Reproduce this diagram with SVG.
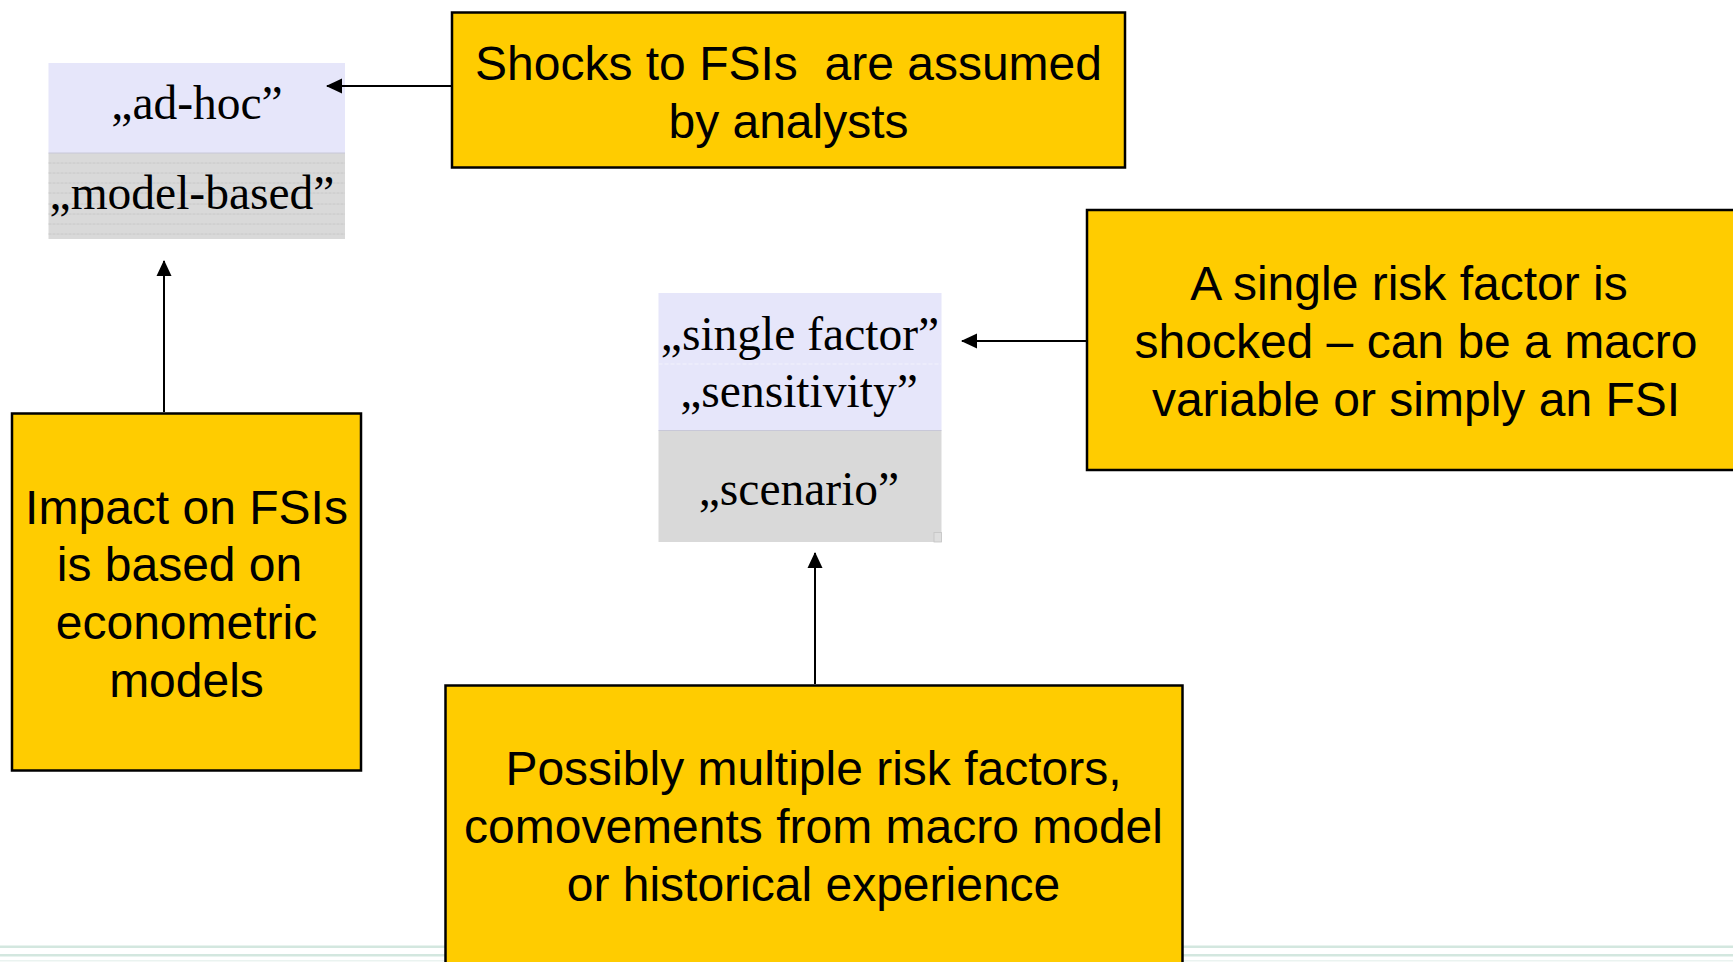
<svg xmlns="http://www.w3.org/2000/svg" width="1733" height="962" viewBox="0 0 1733 962">
  <style>
    .note { fill: #FFCC00; stroke: #000; stroke-width: 2.5; }
    .lav { fill: #E6E6FA; }
    .grey { fill: #D9D9D9; }
    .sans { font-family: "Liberation Sans", Arial, sans-serif; font-size: 48px; fill: #000; text-anchor: middle; }
    .serif { font-family: "Liberation Serif", "Times New Roman", serif; font-size: 47.5px; fill: #000; text-anchor: middle; }
    .link { stroke: #000; stroke-width: 2; fill: none; marker-end: url(#head); }
    .rule { stroke: #C8C8C8; stroke-width: 1; stroke-dasharray: 3 1; }
  </style>
  <defs>
    <marker id="head" markerUnits="userSpaceOnUse" markerWidth="16" markerHeight="16" refX="15" refY="8" orient="auto">
      <path d="M0,0.5 L16,8 L0,15.5 z" fill="#000"/>
    </marker>
  </defs>

  <rect width="1733" height="962" fill="#fff"/>

  <!-- footer stripes -->
  <g id="footer">
    <rect x="0" y="945.5" width="1733" height="2.5" fill="#D3E7DF"/>
    <rect x="0" y="954" width="1733" height="2.5" fill="#D3E7DF"/>
    <rect x="0" y="960" width="1733" height="1.5" fill="#EAF3F0"/>
  </g>

  <!-- classification: ad-hoc / model-based -->
  <g id="approach">
    <rect class="lav" x="48.5" y="63" width="296.5" height="90"/>
    <rect class="grey" x="48.5" y="153" width="296.5" height="86"/>
    <line x1="48.5" y1="153" x2="345" y2="153" stroke="#C8C8D8" stroke-width="1"/>
    <g>
      <line class="rule" x1="48.5" y1="163" x2="345" y2="163"/>
      <line class="rule" x1="48.5" y1="173" x2="345" y2="173"/>
      <line class="rule" x1="48.5" y1="183" x2="345" y2="183"/>
      <line class="rule" x1="48.5" y1="193" x2="345" y2="193"/>
      <line class="rule" x1="48.5" y1="204" x2="345" y2="204"/>
      <line class="rule" x1="48.5" y1="214" x2="345" y2="214"/>
      <line class="rule" x1="48.5" y1="224" x2="345" y2="224"/>
      <line class="rule" x1="48.5" y1="234" x2="345" y2="234"/>
    </g>
    <text class="serif" x="197" y="119">„ad-hoc”</text>
    <text class="serif" x="192" y="209">„model-based”</text>
  </g>

  <!-- classification: single factor / scenario -->
  <g id="scope">
    <rect class="lav" x="658.5" y="293" width="283" height="137.5"/>
    <rect class="grey" x="658.5" y="430.5" width="283" height="111.5"/>
    <line x1="658.5" y1="364" x2="941.5" y2="364" stroke="#F2F2FC" stroke-width="1" stroke-dasharray="4 2"/>
    <line x1="658.5" y1="430.5" x2="941.5" y2="430.5" stroke="#C8C8D8" stroke-width="1"/>
    <rect x="934" y="532.5" width="7.5" height="9.5" fill="#DEDEDE" stroke="#C4C4C4" stroke-width="0.8"/>
    <text class="serif" x="800" y="350">„single factor”</text>
    <text class="serif" x="799" y="407">„sensitivity”</text>
    <text class="serif" x="799" y="505">„scenario”</text>
  </g>

  <g id="shocks">
    <rect class="note" x="452" y="12.5" width="673" height="155"/>
    <text class="sans" x="788.5" y="80">Shocks to FSIs&#160; are assumed</text>
    <text class="sans" x="788.5" y="138">by analysts</text>
  </g>

  <g id="impact">
    <rect class="note" x="12" y="413.5" width="349" height="357"/>
    <text class="sans" x="186.5" y="524">Impact on FSIs</text>
    <text class="sans" x="179.5" y="581">is based on</text>
    <text class="sans" x="186.5" y="639">econometric</text>
    <text class="sans" x="186.5" y="697">models</text>
  </g>

  <g id="single-risk">
    <rect class="note" x="1087" y="210" width="660" height="260"/>
    <text class="sans" x="1409" y="300">A single risk factor is</text>
    <text class="sans" x="1416" y="358">shocked – can be a macro</text>
    <text class="sans" x="1416" y="416">variable or simply an FSI</text>
  </g>

  <g id="multiple-risk">
    <rect class="note" x="445.5" y="685.5" width="737" height="290"/>
    <text class="sans" x="813.5" y="785">Possibly multiple risk factors,</text>
    <text class="sans" x="813.5" y="843">comovements from macro model</text>
    <text class="sans" x="813.5" y="901">or historical experience</text>
  </g>

  <g id="connectors">
    <line class="link" x1="451" y1="86" x2="327" y2="86"/>
    <line class="link" x1="164" y1="412" x2="164" y2="261"/>
    <line class="link" x1="1086" y1="341" x2="962" y2="341"/>
    <line class="link" x1="815" y1="684" x2="815" y2="553"/>
  </g>
</svg>
